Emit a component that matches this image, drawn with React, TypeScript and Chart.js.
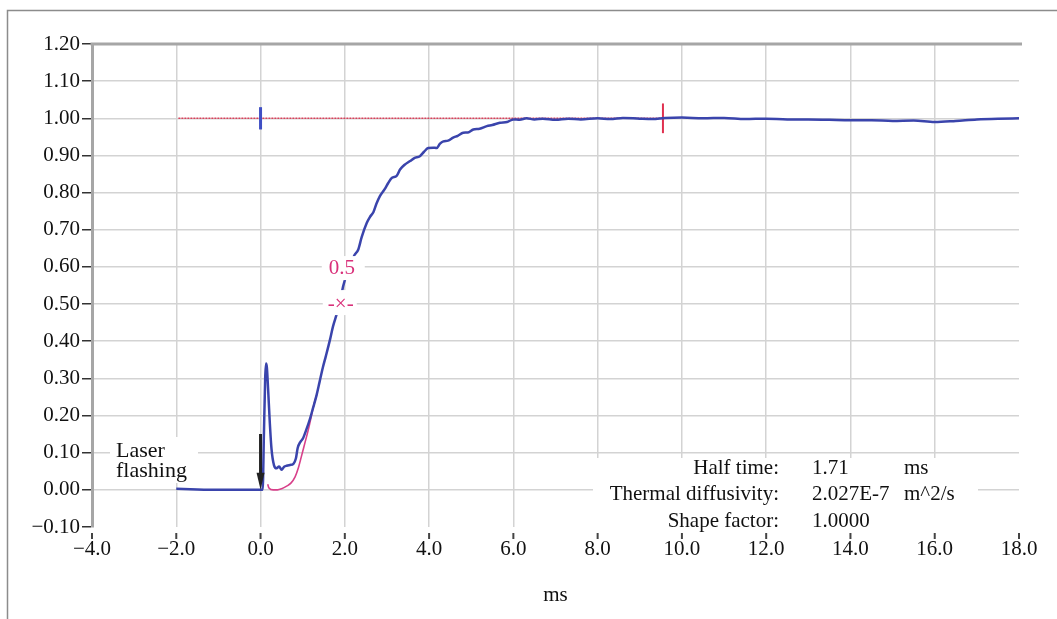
import React, { useEffect, useRef } from "react";
import { Chart, registerables } from "chart.js";

Chart.register(...registerables);

// ---- data ----
const measuredX = [
  -2.0, -1.5, -1.0, -0.5, 0.0, 0.05, 0.08, 0.11, 0.13, 0.15, 0.18, 0.22, 0.26, 0.32, 0.38, 0.44, 0.5, 0.56,
  0.62, 0.7, 0.78, 0.84, 0.88, 0.95, 1.0, 1.08, 1.17, 1.25, 1.33, 1.4, 1.48, 1.55, 1.65, 1.72, 1.8, 1.88,
  1.96, 2.05, 2.15, 2.2, 2.32, 2.4, 2.52, 2.6, 2.68, 2.75, 2.83, 2.95, 3.03, 3.12, 3.23, 3.31, 3.42, 3.55,
  3.65, 3.78, 3.88, 3.98, 4.1, 4.18, 4.26, 4.34, 4.45, 4.57, 4.68, 4.81, 4.92, 5.05, 5.2, 5.37, 5.5, 5.68,
  5.85, 6.0, 6.15, 6.31, 6.5, 6.7, 7.0, 7.3, 7.6, 8.0, 8.3, 8.6, 9.0, 9.3, 9.6, 10.0, 10.5, 11.0, 11.5,
  12.0, 12.5, 13.0, 13.5, 14.0, 14.5, 15.0, 15.5, 16.0, 16.5, 17.0, 17.5, 18.0,
];
const measuredY = [
  0.003, 0.001, 0.0, 0.0, 0.0, 0.0, 0.15, 0.3, 0.34, 0.33, 0.27, 0.18, 0.11, 0.066, 0.058, 0.063, 0.054, 0.062,
  0.065, 0.067, 0.07, 0.085, 0.112, 0.13, 0.137, 0.16, 0.19, 0.222, 0.255, 0.29, 0.33, 0.36, 0.405, 0.44, 0.47, 0.5,
  0.548, 0.58, 0.6, 0.625, 0.647, 0.68, 0.718, 0.735, 0.748, 0.77, 0.79, 0.81, 0.826, 0.84, 0.845, 0.862, 0.875, 0.885,
  0.893, 0.898, 0.91, 0.92, 0.921, 0.92, 0.932, 0.938, 0.94, 0.948, 0.953, 0.961, 0.962, 0.97, 0.972, 0.979, 0.982, 0.988,
  0.99, 0.997, 0.996, 1.0, 0.997, 0.999, 0.996, 0.999, 0.997, 1.0, 0.998, 1.001, 0.999, 0.998, 1.001, 1.002, 1.0, 1.001, 0.998,
  0.999, 0.997, 0.997, 0.996, 0.995, 0.995, 0.993, 0.994, 0.99, 0.993, 0.997, 0.999, 1.0,
];
const fitX = [0.17, 0.2, 0.3, 0.4, 0.5, 0.62, 0.72, 0.82, 0.9, 0.97, 1.05, 1.13, 1.2, 1.25, 1.33];
const fitY = [0.015, 0.005, 0.0, 0.0, 0.003, 0.01, 0.018, 0.035, 0.06, 0.09, 0.125, 0.16, 0.195, 0.222, 0.255];
const baselineX = [-1.95, 9.55];
const baselineY = [1.0, 1.0];
const startMarkerX = [0, 0];
const startMarkerY = [0.97, 1.03];
const endMarkerX = [9.55, 9.55];
const endMarkerY = [0.96, 1.04];
const arrowX = [0, 0];
const arrowY = [0.15, 0.04];
const arrowTip = { x: 0, y: 0.0 };
const halfPoint = { x: 1.88, y: 0.5 };
const halfLabel = "0.5";
const xTickMin = -4, xTickMax = 18, xStep = 2;
const yTickMin = -0.1, yTickMax = 1.2, yStep = 0.1;
const infoLabels = ["Half time:", "Thermal diffusivity:", "Shape factor:"];
const infoValues = ["1.71", "2.027E-7", "1.0000"];
const infoUnits = ["ms", "m^2/s", ""];
const laserText = ["Laser", "flashing"];
const xTitle = "ms";

const FONT = "'Liberation Serif', 'Times New Roman', serif";

const pts = (xs: number[], ys: number[]) => xs.map((x, i) => ({ x, y: ys[i] }));
const fmt = (v: number, d: number) => {
  const n = Math.abs(v) < 1e-9 ? 0 : v;
  return n.toFixed(d).replace("-", "\u2212");
};

const decorPlugin = {
  id: "decor",
  beforeDraw(chart: any) {
    const ctx = chart.ctx;
    ctx.save();
    ctx.fillStyle = "#ffffff";
    ctx.fillRect(0, 0, chart.width, chart.height);
    ctx.strokeStyle = "#8c8c8c";
    ctx.lineWidth = 1.5;
    ctx.beginPath();
    ctx.moveTo(7.5, chart.height);
    ctx.lineTo(7.5, 10.5);
    ctx.lineTo(chart.width, 10.5);
    ctx.stroke();
    ctx.restore();
  },
  afterDatasetsDraw(chart: any) {
    const ctx = chart.ctx;
    const xs = chart.scales.x;
    const ys = chart.scales.y;
    const ca = chart.chartArea;
    ctx.save();
    // top border
    ctx.strokeStyle = "#a6a6a6";
    ctx.lineWidth = 3;
    ctx.beginPath();
    ctx.moveTo(ca.left - 1.5, ca.top);
    ctx.lineTo(ca.right + 3, ca.top);
    ctx.stroke();
    // x tick marks (detached from plot)
    ctx.strokeStyle = "#444";
    ctx.lineWidth = 2;
    xs.ticks.forEach((t: any) => {
      const px = xs.getPixelForValue(t.value);
      ctx.beginPath();
      ctx.moveTo(px, ca.bottom + 6);
      ctx.lineTo(px, ca.bottom + 12);
      ctx.stroke();
    });
    // arrowhead
    const tx = xs.getPixelForValue(arrowTip.x);
    const ty = ys.getPixelForValue(arrowTip.y);
    ctx.fillStyle = "#222";
    ctx.beginPath();
    ctx.moveTo(tx, ty);
    ctx.lineTo(tx - 4, ty - 17);
    ctx.lineTo(tx + 4, ty - 17);
    ctx.closePath();
    ctx.fill();

    // half-time annotation
    const hx = xs.getPixelForValue(halfPoint.x);
    const hy = ys.getPixelForValue(halfPoint.y);
    ctx.fillStyle = "#ffffff";
    ctx.fillRect(hx - 18, hy - 48, 43, 24);
    ctx.fillRect(hx - 17, hy - 14, 34, 25);
    ctx.fillStyle = "#d9307a";
    ctx.font = `21px ${FONT}`;
    ctx.textAlign = "center";
    ctx.textBaseline = "middle";
    ctx.fillText(halfLabel, hx + 2, hy - 36);
    ctx.fillText("-\u00d7-", hx + 1, hy);

    // laser flashing label
    const lx = ca.left + 18;
    const ly = ca.bottom - 90;
    ctx.fillStyle = "#ffffff";
    ctx.fillRect(lx, ly, 88, 46);
    ctx.fillStyle = "#111";
    ctx.font = `22px ${FONT}`;
    ctx.textAlign = "left";
    ctx.fillText(laserText[0], lx + 6, ly + 14);
    ctx.fillText(laserText[1], lx + 6, ly + 34);

    // info box
    const bx = ca.left + 501;
    const by = ca.bottom - 69;
    ctx.fillStyle = "#ffffff";
    ctx.fillRect(bx, by, 385, 75);
    ctx.fillStyle = "#111";
    ctx.font = `21px ${FONT}`;
    infoLabels.forEach((lab, i) => {
      const yy = by + 10 + i * 26.5;
      ctx.textAlign = "right";
      ctx.fillText(lab, bx + 186, yy);
      ctx.textAlign = "left";
      ctx.fillText(infoValues[i], bx + 219, yy);
      ctx.fillText(infoUnits[i], bx + 311, yy);
    });
    ctx.restore();
  },
};

export default function App() {
  const ref = useRef<HTMLCanvasElement | null>(null);
  useEffect(() => {
    if (!ref.current) return;
    const chart = new Chart(ref.current, {
      type: "line",
      data: {
        datasets: [
          {
            data: pts(measuredX, measuredY),
            borderColor: "#3a44ac",
            borderWidth: 2.5,
            pointRadius: 0,
            cubicInterpolationMode: "monotone",
          },
          {
            data: pts(arrowX, arrowY),
            borderColor: "#222",
            borderWidth: 3,
            pointRadius: 0,
          },
          {
            data: pts(fitX, fitY),
            borderColor: "#d8408a",
            borderWidth: 1.6,
            pointRadius: 0,
            cubicInterpolationMode: "monotone",
          },
          {
            data: pts(startMarkerX, startMarkerY),
            borderColor: "#3f4fc4",
            borderWidth: 3,
            pointRadius: 0,
          },
          {
            data: pts(endMarkerX, endMarkerY),
            borderColor: "#e0304f",
            borderWidth: 2,
            pointRadius: 0,
          },
          {
            data: pts(baselineX, baselineY),
            borderColor: "#d8405a",
            borderWidth: 1.5,
            borderDash: [2, 1],
            pointRadius: 0,
          },
        ] as any,
      },
      options: {
        animation: false,
        responsive: false,
        devicePixelRatio: 1,
        parsing: false as any,
        layout: { padding: { top: 44, right: 38, left: 0, bottom: 0 } },
        plugins: { legend: { display: false }, tooltip: { enabled: false } },
        scales: {
          x: {
            type: "linear",
            min: xTickMin,
            max: xTickMax,
            ticks: {
              stepSize: xStep,
              color: "#111",
              font: { family: FONT, size: 21 },
              padding: 2,
              maxRotation: 0,
              callback: (v: any) => fmt(Number(v), 1),
            },
            grid: {
              color: (c: any) =>
                c.tick && (c.tick.value === xTickMax || c.tick.value === xTickMin) ? "rgba(0,0,0,0)" : "#d3d3d3",
              lineWidth: 1.5,
              tickLength: 8,
              tickColor: "rgba(0,0,0,0)",
            },
            border: { display: false },
            title: {
              display: true,
              text: xTitle,
              color: "#111",
              font: { family: FONT, size: 21 },
              padding: { top: 0, bottom: 11 },
            },
            afterFit: (s: any) => {
              s.height = 92;
            },
          },
          y: {
            type: "linear",
            min: yTickMin,
            max: yTickMax,
            ticks: {
              stepSize: yStep,
              color: "#111",
              font: { family: FONT, size: 21 },
              padding: 2,
              callback: (v: any) => fmt(Number(v), 2),
            },
            grid: {
              color: (c: any) => {
                const v = c.tick ? c.tick.value : 0;
                if (Math.abs(v - yTickMin) < 1e-6 || Math.abs(v - yTickMax) < 1e-6) return "rgba(0,0,0,0)";
                return "#d3d3d3";
              },
              lineWidth: 1.5,
              tickLength: 10,
              tickColor: "#333",
              tickWidth: 1.5,
            },
            border: { display: true, color: "#a6a6a6", width: 3 },
            afterFit: (s: any) => {
              s.width = 92;
            },
          },
        },
      } as any,
      plugins: [decorPlugin],
    });
    return () => chart.destroy();
  }, []);
  return (
    <div style={{ position: "fixed", left: 0, top: 0, width: 1057, height: 619, background: "#fff" }}>
      <canvas ref={ref} width={1057} height={619} style={{ width: 1057, height: 619, display: "block" }} />
    </div>
  );
}
